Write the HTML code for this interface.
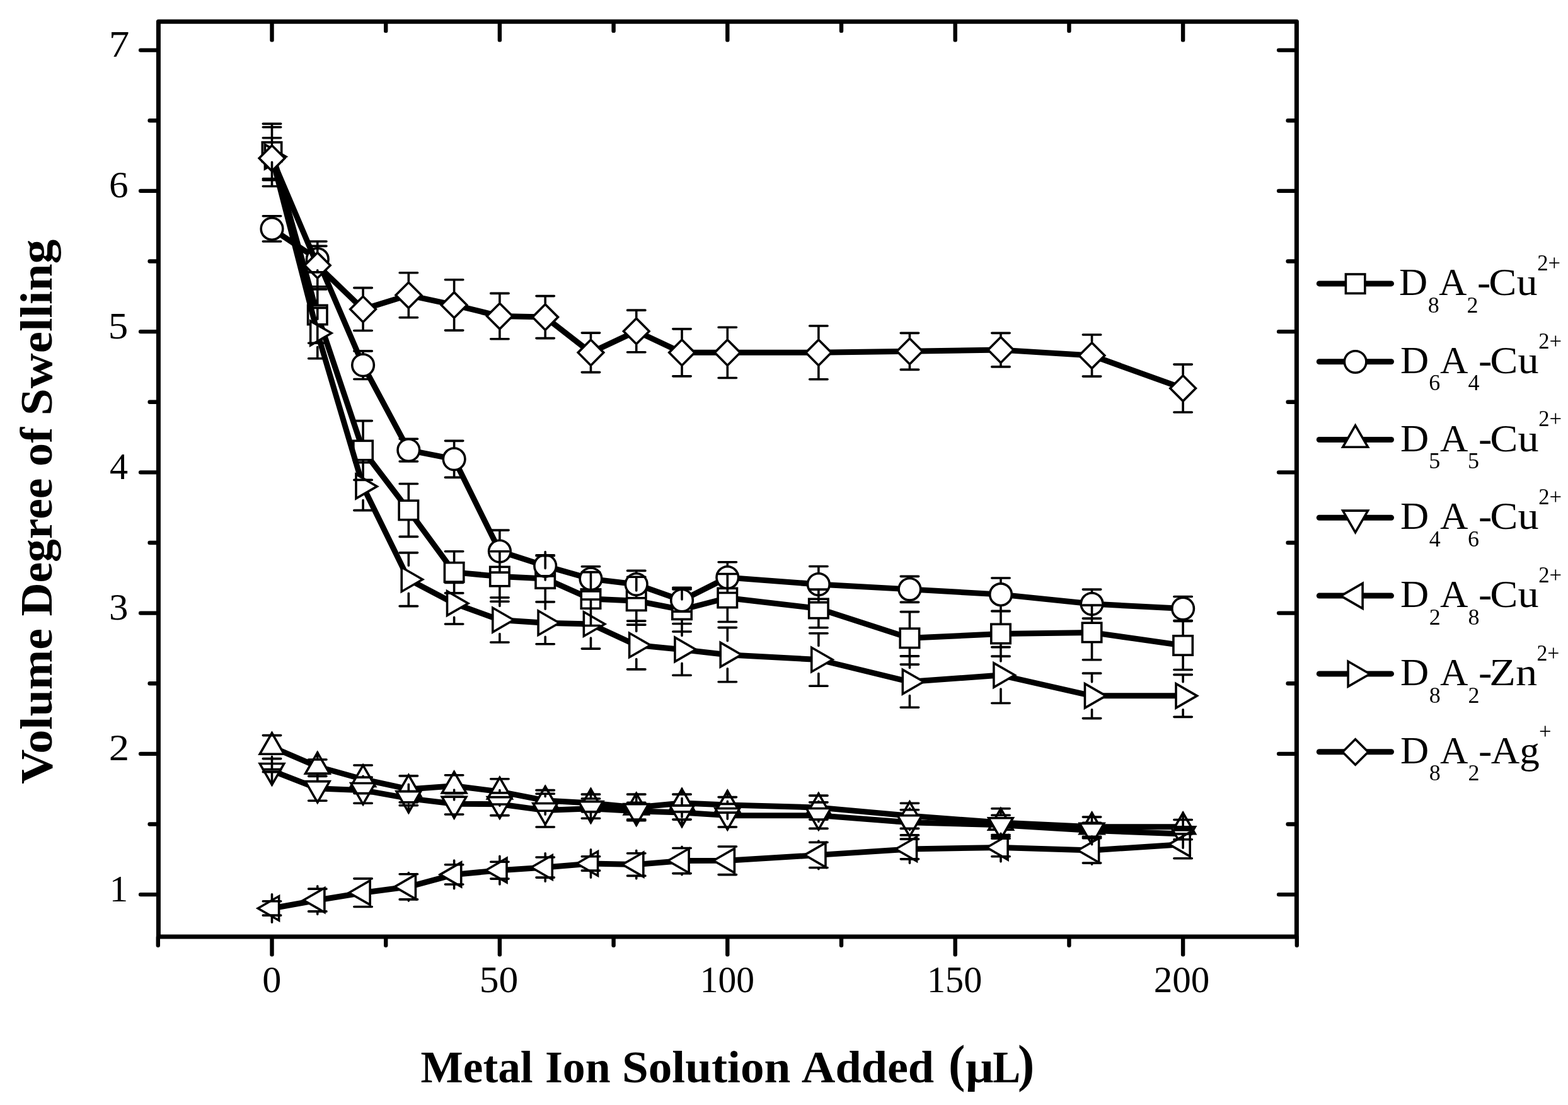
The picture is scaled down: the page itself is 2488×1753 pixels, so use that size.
<!DOCTYPE html>
<html lang="en"><head><meta charset="utf-8"><title>Volume Degree of Swelling vs Metal Ion Solution Added</title>
<style>html,body{margin:0;padding:0;background:#fff}body{width:2488px;height:1753px;overflow:hidden}svg{display:block}text{font-family:"Liberation Serif",serif;fill:#000}</style></head><body>
<svg width="2488" height="1753" viewBox="0 0 2488 1753">
<rect width="2488" height="1753" fill="#fff"/>
<g id="axes" stroke="#000" stroke-width="7.0" fill="none" stroke-linecap="round">
<rect x="251.4" y="34.3" width="1806" height="1451.7" stroke-linejoin="round"/>
</g>
<g id="ticks" stroke="#000" stroke-width="6.4" fill="none" stroke-linecap="round">
<line x1="250.8" y1="1487" x2="250.8" y2="1499.8"/>
<line x1="431.5" y1="1487" x2="431.5" y2="1514.3"/>
<line x1="431.5" y1="35.3" x2="431.5" y2="63.4"/>
<line x1="612.2" y1="1487" x2="612.2" y2="1499.8"/>
<line x1="612.2" y1="35.3" x2="612.2" y2="48.9"/>
<line x1="792.9" y1="1487" x2="792.9" y2="1514.3"/>
<line x1="792.9" y1="35.3" x2="792.9" y2="63.4"/>
<line x1="973.6" y1="1487" x2="973.6" y2="1499.8"/>
<line x1="973.6" y1="35.3" x2="973.6" y2="48.9"/>
<line x1="1154.3" y1="1487" x2="1154.3" y2="1514.3"/>
<line x1="1154.3" y1="35.3" x2="1154.3" y2="63.4"/>
<line x1="1335" y1="1487" x2="1335" y2="1499.8"/>
<line x1="1335" y1="35.3" x2="1335" y2="48.9"/>
<line x1="1515.7" y1="1487" x2="1515.7" y2="1514.3"/>
<line x1="1515.7" y1="35.3" x2="1515.7" y2="63.4"/>
<line x1="1696.4" y1="1487" x2="1696.4" y2="1499.8"/>
<line x1="1696.4" y1="35.3" x2="1696.4" y2="48.9"/>
<line x1="1877.1" y1="1487" x2="1877.1" y2="1514.3"/>
<line x1="1877.1" y1="35.3" x2="1877.1" y2="63.4"/>
<line x1="2057.8" y1="1487" x2="2057.8" y2="1499.8"/>
<line x1="250.4" y1="1419.1" x2="223.1" y2="1419.1"/>
<line x1="2056.4" y1="1419.1" x2="2029.1" y2="1419.1"/>
<line x1="250.4" y1="1307.47" x2="237.6" y2="1307.47"/>
<line x1="2056.4" y1="1307.47" x2="2043.6" y2="1307.47"/>
<line x1="250.4" y1="1195.85" x2="223.1" y2="1195.85"/>
<line x1="2056.4" y1="1195.85" x2="2029.1" y2="1195.85"/>
<line x1="250.4" y1="1084.22" x2="237.6" y2="1084.22"/>
<line x1="2056.4" y1="1084.22" x2="2043.6" y2="1084.22"/>
<line x1="250.4" y1="972.6" x2="223.1" y2="972.6"/>
<line x1="2056.4" y1="972.6" x2="2029.1" y2="972.6"/>
<line x1="250.4" y1="860.97" x2="237.6" y2="860.97"/>
<line x1="2056.4" y1="860.97" x2="2043.6" y2="860.97"/>
<line x1="250.4" y1="749.35" x2="223.1" y2="749.35"/>
<line x1="2056.4" y1="749.35" x2="2029.1" y2="749.35"/>
<line x1="250.4" y1="637.72" x2="237.6" y2="637.72"/>
<line x1="2056.4" y1="637.72" x2="2043.6" y2="637.72"/>
<line x1="250.4" y1="526.1" x2="223.1" y2="526.1"/>
<line x1="2056.4" y1="526.1" x2="2029.1" y2="526.1"/>
<line x1="250.4" y1="414.47" x2="237.6" y2="414.47"/>
<line x1="2056.4" y1="414.47" x2="2043.6" y2="414.47"/>
<line x1="250.4" y1="302.85" x2="223.1" y2="302.85"/>
<line x1="2056.4" y1="302.85" x2="2029.1" y2="302.85"/>
<line x1="250.4" y1="191.22" x2="237.6" y2="191.22"/>
<line x1="2056.4" y1="191.22" x2="2043.6" y2="191.22"/>
<line x1="250.4" y1="79.6" x2="223.1" y2="79.6"/>
<line x1="2056.4" y1="79.6" x2="2029.1" y2="79.6"/>
</g>
<g id="ticklabels" font-size="60">
<text x="416.29" y="1574.4" textLength="30.12" lengthAdjust="spacingAndGlyphs">0</text>
<text x="760.7" y="1574.4" textLength="61.56" lengthAdjust="spacingAndGlyphs">50</text>
<text x="1110.7" y="1574.4" textLength="86.42" lengthAdjust="spacingAndGlyphs">100</text>
<text x="1470.95" y="1574.4" textLength="87.29" lengthAdjust="spacingAndGlyphs">150</text>
<text x="1830.85" y="1574.4" textLength="88.52" lengthAdjust="spacingAndGlyphs">200</text>
<text x="173.8" y="1429.6" textLength="29.43" lengthAdjust="spacingAndGlyphs">1</text>
<text x="172.76" y="1206.35" textLength="32.38" lengthAdjust="spacingAndGlyphs">2</text>
<text x="172.95" y="983.1" textLength="30.48" lengthAdjust="spacingAndGlyphs">3</text>
<text x="174.03" y="759.85" textLength="29.04" lengthAdjust="spacingAndGlyphs">4</text>
<text x="171.8" y="536.6" textLength="31.5" lengthAdjust="spacingAndGlyphs">5</text>
<text x="172.94" y="313.35" textLength="30.6" lengthAdjust="spacingAndGlyphs">6</text>
<text x="172.65" y="90.1" textLength="32.62" lengthAdjust="spacingAndGlyphs">7</text>
</g>
<g id="titles" font-size="72" font-weight="bold">
<text y="1717"><tspan x="667.61" textLength="177.99" lengthAdjust="spacingAndGlyphs">Metal</tspan> <tspan x="864.91" textLength="103.65" lengthAdjust="spacingAndGlyphs">Ion</tspan> <tspan x="986.92" textLength="267.55" lengthAdjust="spacingAndGlyphs">Solution</tspan> <tspan x="1271.87" textLength="210.26" lengthAdjust="spacingAndGlyphs">Added</tspan> <tspan x="1504.93" font-size="82" dy="-2" textLength="26.4" lengthAdjust="spacingAndGlyphs">(</tspan> <tspan x="1531.72" dy="2" textLength="44.99" lengthAdjust="spacingAndGlyphs">µ</tspan> <tspan x="1575.26" textLength="40.28" lengthAdjust="spacingAndGlyphs">L</tspan> <tspan x="1615.11" font-size="82" dy="-2" textLength="26.27" lengthAdjust="spacingAndGlyphs">)</tspan></text>
<text transform="translate(82 1242.8) rotate(-90)" y="0"><tspan x="-1.06" textLength="247.01" lengthAdjust="spacingAndGlyphs">Volume</tspan> <tspan x="265.28" textLength="218.88" lengthAdjust="spacingAndGlyphs">Degree</tspan> <tspan x="502.91" textLength="61.85" lengthAdjust="spacingAndGlyphs">of</tspan> <tspan x="583.5" textLength="279.54" lengthAdjust="spacingAndGlyphs">Swelling</tspan></text>
</g>
<g id="series">
<g class="s-sq"><polyline points="431.5,241.01 503.78,499.53 576.06,714.52 648.34,809.4 720.62,907.86 792.9,914.55 865.18,917.9 937.46,950.05 1009.74,953.18 1082.02,967.24 1154.3,948.49 1298.86,965.46 1443.42,1012.34 1587.98,1005.42 1732.54,1003.41 1877.1,1023.95" fill="none" stroke="#000" stroke-width="9.0" stroke-linejoin="round"/>
<rect x="416.3" y="225.81" width="30.4" height="30.4" fill="#fff" stroke="#000" stroke-width="3.6" stroke-linejoin="miter"/>
<rect x="488.58" y="484.33" width="30.4" height="30.4" fill="#fff" stroke="#000" stroke-width="3.6" stroke-linejoin="miter"/>
<rect x="560.86" y="699.32" width="30.4" height="30.4" fill="#fff" stroke="#000" stroke-width="3.6" stroke-linejoin="miter"/>
<rect x="633.14" y="794.2" width="30.4" height="30.4" fill="#fff" stroke="#000" stroke-width="3.6" stroke-linejoin="miter"/>
<rect x="705.42" y="892.66" width="30.4" height="30.4" fill="#fff" stroke="#000" stroke-width="3.6" stroke-linejoin="miter"/>
<rect x="777.7" y="899.35" width="30.4" height="30.4" fill="#fff" stroke="#000" stroke-width="3.6" stroke-linejoin="miter"/>
<rect x="849.98" y="902.7" width="30.4" height="30.4" fill="#fff" stroke="#000" stroke-width="3.6" stroke-linejoin="miter"/>
<rect x="922.26" y="934.85" width="30.4" height="30.4" fill="#fff" stroke="#000" stroke-width="3.6" stroke-linejoin="miter"/>
<rect x="994.54" y="937.98" width="30.4" height="30.4" fill="#fff" stroke="#000" stroke-width="3.6" stroke-linejoin="miter"/>
<rect x="1066.82" y="952.04" width="30.4" height="30.4" fill="#fff" stroke="#000" stroke-width="3.6" stroke-linejoin="miter"/>
<rect x="1139.1" y="933.29" width="30.4" height="30.4" fill="#fff" stroke="#000" stroke-width="3.6" stroke-linejoin="miter"/>
<rect x="1283.66" y="950.26" width="30.4" height="30.4" fill="#fff" stroke="#000" stroke-width="3.6" stroke-linejoin="miter"/>
<rect x="1428.22" y="997.14" width="30.4" height="30.4" fill="#fff" stroke="#000" stroke-width="3.6" stroke-linejoin="miter"/>
<rect x="1572.78" y="990.22" width="30.4" height="30.4" fill="#fff" stroke="#000" stroke-width="3.6" stroke-linejoin="miter"/>
<rect x="1717.34" y="988.21" width="30.4" height="30.4" fill="#fff" stroke="#000" stroke-width="3.6" stroke-linejoin="miter"/>
<rect x="1861.9" y="1008.75" width="30.4" height="30.4" fill="#fff" stroke="#000" stroke-width="3.6" stroke-linejoin="miter"/>
</g>
<g class="s-ci"><polyline points="431.5,362.9 503.78,411.13 576.06,579.23 648.34,714.08 720.62,728.36 792.9,874.59 865.18,897.81 937.46,918.35 1009.74,927.06 1082.02,952.51 1154.3,916.12 1298.86,927.06 1443.42,934.87 1587.98,943.13 1732.54,958.09 1877.1,965.46" fill="none" stroke="#000" stroke-width="9.0" stroke-linejoin="round"/>
<circle cx="431.5" cy="362.9" r="17.3" fill="#fff" stroke="#000" stroke-width="3.6" stroke-linejoin="miter"/>
<circle cx="503.78" cy="411.13" r="17.3" fill="#fff" stroke="#000" stroke-width="3.6" stroke-linejoin="miter"/>
<circle cx="576.06" cy="579.23" r="17.3" fill="#fff" stroke="#000" stroke-width="3.6" stroke-linejoin="miter"/>
<circle cx="648.34" cy="714.08" r="17.3" fill="#fff" stroke="#000" stroke-width="3.6" stroke-linejoin="miter"/>
<circle cx="720.62" cy="728.36" r="17.3" fill="#fff" stroke="#000" stroke-width="3.6" stroke-linejoin="miter"/>
<circle cx="792.9" cy="874.59" r="17.3" fill="#fff" stroke="#000" stroke-width="3.6" stroke-linejoin="miter"/>
<circle cx="865.18" cy="897.81" r="17.3" fill="#fff" stroke="#000" stroke-width="3.6" stroke-linejoin="miter"/>
<circle cx="937.46" cy="918.35" r="17.3" fill="#fff" stroke="#000" stroke-width="3.6" stroke-linejoin="miter"/>
<circle cx="1009.74" cy="927.06" r="17.3" fill="#fff" stroke="#000" stroke-width="3.6" stroke-linejoin="miter"/>
<circle cx="1082.02" cy="952.51" r="17.3" fill="#fff" stroke="#000" stroke-width="3.6" stroke-linejoin="miter"/>
<circle cx="1154.3" cy="916.12" r="17.3" fill="#fff" stroke="#000" stroke-width="3.6" stroke-linejoin="miter"/>
<circle cx="1298.86" cy="927.06" r="17.3" fill="#fff" stroke="#000" stroke-width="3.6" stroke-linejoin="miter"/>
<circle cx="1443.42" cy="934.87" r="17.3" fill="#fff" stroke="#000" stroke-width="3.6" stroke-linejoin="miter"/>
<circle cx="1587.98" cy="943.13" r="17.3" fill="#fff" stroke="#000" stroke-width="3.6" stroke-linejoin="miter"/>
<circle cx="1732.54" cy="958.09" r="17.3" fill="#fff" stroke="#000" stroke-width="3.6" stroke-linejoin="miter"/>
<circle cx="1877.1" cy="965.46" r="17.3" fill="#fff" stroke="#000" stroke-width="3.6" stroke-linejoin="miter"/>
</g>
<g class="s-up"><polyline points="431.5,1185.13 503.78,1216.17 576.06,1236.26 648.34,1251.89 720.62,1246.75 792.9,1255.9 865.18,1269.97 937.46,1273.99 1009.74,1280.91 1082.02,1273.99 1154.3,1276.89 1298.86,1281.13 1443.42,1294.3 1587.98,1305.02 1732.54,1311.72 1877.1,1311.72" fill="none" stroke="#000" stroke-width="9.0" stroke-linejoin="round"/>
<polygon points="431.5,1162.93 450.73,1196.23 412.27,1196.23" fill="#fff" stroke="#000" stroke-width="3.6" stroke-linejoin="miter"/>
<polygon points="503.78,1193.97 523.01,1227.27 484.55,1227.27" fill="#fff" stroke="#000" stroke-width="3.6" stroke-linejoin="miter"/>
<polygon points="576.06,1214.06 595.29,1247.36 556.83,1247.36" fill="#fff" stroke="#000" stroke-width="3.6" stroke-linejoin="miter"/>
<polygon points="648.34,1229.69 667.57,1262.99 629.11,1262.99" fill="#fff" stroke="#000" stroke-width="3.6" stroke-linejoin="miter"/>
<polygon points="720.62,1224.55 739.85,1257.85 701.39,1257.85" fill="#fff" stroke="#000" stroke-width="3.6" stroke-linejoin="miter"/>
<polygon points="792.9,1233.7 812.13,1267 773.67,1267" fill="#fff" stroke="#000" stroke-width="3.6" stroke-linejoin="miter"/>
<polygon points="865.18,1247.77 884.41,1281.07 845.95,1281.07" fill="#fff" stroke="#000" stroke-width="3.6" stroke-linejoin="miter"/>
<polygon points="937.46,1251.79 956.69,1285.09 918.23,1285.09" fill="#fff" stroke="#000" stroke-width="3.6" stroke-linejoin="miter"/>
<polygon points="1009.74,1258.71 1028.97,1292.01 990.51,1292.01" fill="#fff" stroke="#000" stroke-width="3.6" stroke-linejoin="miter"/>
<polygon points="1082.02,1251.79 1101.25,1285.09 1062.79,1285.09" fill="#fff" stroke="#000" stroke-width="3.6" stroke-linejoin="miter"/>
<polygon points="1154.3,1254.69 1173.53,1287.99 1135.07,1287.99" fill="#fff" stroke="#000" stroke-width="3.6" stroke-linejoin="miter"/>
<polygon points="1298.86,1258.93 1318.09,1292.23 1279.63,1292.23" fill="#fff" stroke="#000" stroke-width="3.6" stroke-linejoin="miter"/>
<polygon points="1443.42,1272.1 1462.65,1305.4 1424.19,1305.4" fill="#fff" stroke="#000" stroke-width="3.6" stroke-linejoin="miter"/>
<polygon points="1587.98,1282.82 1607.21,1316.12 1568.75,1316.12" fill="#fff" stroke="#000" stroke-width="3.6" stroke-linejoin="miter"/>
<polygon points="1732.54,1289.52 1751.77,1322.82 1713.31,1322.82" fill="#fff" stroke="#000" stroke-width="3.6" stroke-linejoin="miter"/>
<polygon points="1877.1,1289.52 1896.33,1322.82 1857.87,1322.82" fill="#fff" stroke="#000" stroke-width="3.6" stroke-linejoin="miter"/>
</g>
<g class="s-dn"><polyline points="431.5,1222.64 503.78,1250.77 576.06,1253.67 648.34,1266.62 720.62,1275.33 792.9,1275.77 865.18,1285.6 937.46,1282.69 1009.74,1286.71 1082.02,1288.95 1154.3,1293.63 1298.86,1293.63 1443.42,1304.8 1587.98,1308.81 1732.54,1317.52 1877.1,1322.88" fill="none" stroke="#000" stroke-width="9.0" stroke-linejoin="round"/>
<polygon points="431.5,1244.84 412.27,1211.54 450.73,1211.54" fill="#fff" stroke="#000" stroke-width="3.6" stroke-linejoin="miter"/>
<polygon points="503.78,1272.97 484.55,1239.67 523.01,1239.67" fill="#fff" stroke="#000" stroke-width="3.6" stroke-linejoin="miter"/>
<polygon points="576.06,1275.87 556.83,1242.57 595.29,1242.57" fill="#fff" stroke="#000" stroke-width="3.6" stroke-linejoin="miter"/>
<polygon points="648.34,1288.82 629.11,1255.52 667.57,1255.52" fill="#fff" stroke="#000" stroke-width="3.6" stroke-linejoin="miter"/>
<polygon points="720.62,1297.53 701.39,1264.23 739.85,1264.23" fill="#fff" stroke="#000" stroke-width="3.6" stroke-linejoin="miter"/>
<polygon points="792.9,1297.97 773.67,1264.67 812.13,1264.67" fill="#fff" stroke="#000" stroke-width="3.6" stroke-linejoin="miter"/>
<polygon points="865.18,1307.8 845.95,1274.5 884.41,1274.5" fill="#fff" stroke="#000" stroke-width="3.6" stroke-linejoin="miter"/>
<polygon points="937.46,1304.89 918.23,1271.59 956.69,1271.59" fill="#fff" stroke="#000" stroke-width="3.6" stroke-linejoin="miter"/>
<polygon points="1009.74,1308.91 990.51,1275.61 1028.97,1275.61" fill="#fff" stroke="#000" stroke-width="3.6" stroke-linejoin="miter"/>
<polygon points="1082.02,1311.15 1062.79,1277.85 1101.25,1277.85" fill="#fff" stroke="#000" stroke-width="3.6" stroke-linejoin="miter"/>
<polygon points="1154.3,1315.83 1135.07,1282.53 1173.53,1282.53" fill="#fff" stroke="#000" stroke-width="3.6" stroke-linejoin="miter"/>
<polygon points="1298.86,1315.83 1279.63,1282.53 1318.09,1282.53" fill="#fff" stroke="#000" stroke-width="3.6" stroke-linejoin="miter"/>
<polygon points="1443.42,1327 1424.19,1293.7 1462.65,1293.7" fill="#fff" stroke="#000" stroke-width="3.6" stroke-linejoin="miter"/>
<polygon points="1587.98,1331.01 1568.75,1297.71 1607.21,1297.71" fill="#fff" stroke="#000" stroke-width="3.6" stroke-linejoin="miter"/>
<polygon points="1732.54,1339.72 1713.31,1306.42 1751.77,1306.42" fill="#fff" stroke="#000" stroke-width="3.6" stroke-linejoin="miter"/>
<polygon points="1877.1,1345.08 1857.87,1311.78 1896.33,1311.78" fill="#fff" stroke="#000" stroke-width="3.6" stroke-linejoin="miter"/>
</g>
<g class="s-lf"><polyline points="431.5,1440.98 503.78,1428.03 576.06,1416.2 648.34,1406.82 720.62,1387.4 792.9,1380.7 865.18,1376.01 937.46,1369.98 1009.74,1371.55 1082.02,1365.52 1154.3,1365.3 1298.86,1356.37 1443.42,1346.99 1587.98,1344.53 1732.54,1349 1877.1,1339.4" fill="none" stroke="#000" stroke-width="9.0" stroke-linejoin="round"/>
<polygon points="409.3,1440.98 442.6,1421.75 442.6,1460.2" fill="#fff" stroke="#000" stroke-width="3.6" stroke-linejoin="miter"/>
<polygon points="481.58,1428.03 514.88,1408.8 514.88,1447.26" fill="#fff" stroke="#000" stroke-width="3.6" stroke-linejoin="miter"/>
<polygon points="553.86,1416.2 587.16,1396.97 587.16,1435.42" fill="#fff" stroke="#000" stroke-width="3.6" stroke-linejoin="miter"/>
<polygon points="626.14,1406.82 659.44,1387.6 659.44,1426.05" fill="#fff" stroke="#000" stroke-width="3.6" stroke-linejoin="miter"/>
<polygon points="698.42,1387.4 731.72,1368.17 731.72,1406.62" fill="#fff" stroke="#000" stroke-width="3.6" stroke-linejoin="miter"/>
<polygon points="770.7,1380.7 804,1361.48 804,1399.93" fill="#fff" stroke="#000" stroke-width="3.6" stroke-linejoin="miter"/>
<polygon points="842.98,1376.01 876.28,1356.79 876.28,1395.24" fill="#fff" stroke="#000" stroke-width="3.6" stroke-linejoin="miter"/>
<polygon points="915.26,1369.98 948.56,1350.76 948.56,1389.21" fill="#fff" stroke="#000" stroke-width="3.6" stroke-linejoin="miter"/>
<polygon points="987.54,1371.55 1020.84,1352.32 1020.84,1390.77" fill="#fff" stroke="#000" stroke-width="3.6" stroke-linejoin="miter"/>
<polygon points="1059.82,1365.52 1093.12,1346.29 1093.12,1384.75" fill="#fff" stroke="#000" stroke-width="3.6" stroke-linejoin="miter"/>
<polygon points="1132.1,1365.3 1165.4,1346.07 1165.4,1384.52" fill="#fff" stroke="#000" stroke-width="3.6" stroke-linejoin="miter"/>
<polygon points="1276.66,1356.37 1309.96,1337.14 1309.96,1375.59" fill="#fff" stroke="#000" stroke-width="3.6" stroke-linejoin="miter"/>
<polygon points="1421.22,1346.99 1454.52,1327.76 1454.52,1366.22" fill="#fff" stroke="#000" stroke-width="3.6" stroke-linejoin="miter"/>
<polygon points="1565.78,1344.53 1599.08,1325.31 1599.08,1363.76" fill="#fff" stroke="#000" stroke-width="3.6" stroke-linejoin="miter"/>
<polygon points="1710.34,1349 1743.64,1329.77 1743.64,1368.23" fill="#fff" stroke="#000" stroke-width="3.6" stroke-linejoin="miter"/>
<polygon points="1854.9,1339.4 1888.2,1320.17 1888.2,1358.63" fill="#fff" stroke="#000" stroke-width="3.6" stroke-linejoin="miter"/>
</g>
<g class="s-rt"><polyline points="431.5,248.6 503.78,528.56 576.06,771.67 648.34,919.24 720.62,957.2 792.9,983.54 865.18,988.23 937.46,990.01 1009.74,1023.5 1082.02,1030.42 1154.3,1038.68 1298.86,1046.5 1443.42,1081.55 1587.98,1071.05 1732.54,1103.87 1877.1,1103.87" fill="none" stroke="#000" stroke-width="9.0" stroke-linejoin="round"/>
<polygon points="453.7,248.6 420.4,267.83 420.4,229.37" fill="#fff" stroke="#000" stroke-width="3.6" stroke-linejoin="miter"/>
<polygon points="525.98,528.56 492.68,547.78 492.68,509.33" fill="#fff" stroke="#000" stroke-width="3.6" stroke-linejoin="miter"/>
<polygon points="598.26,771.67 564.96,790.9 564.96,752.45" fill="#fff" stroke="#000" stroke-width="3.6" stroke-linejoin="miter"/>
<polygon points="670.54,919.24 637.24,938.47 637.24,900.02" fill="#fff" stroke="#000" stroke-width="3.6" stroke-linejoin="miter"/>
<polygon points="742.82,957.2 709.52,976.42 709.52,937.97" fill="#fff" stroke="#000" stroke-width="3.6" stroke-linejoin="miter"/>
<polygon points="815.1,983.54 781.8,1002.77 781.8,964.31" fill="#fff" stroke="#000" stroke-width="3.6" stroke-linejoin="miter"/>
<polygon points="887.38,988.23 854.08,1007.45 854.08,969" fill="#fff" stroke="#000" stroke-width="3.6" stroke-linejoin="miter"/>
<polygon points="959.66,990.01 926.36,1009.24 926.36,970.79" fill="#fff" stroke="#000" stroke-width="3.6" stroke-linejoin="miter"/>
<polygon points="1031.94,1023.5 998.64,1042.73 998.64,1004.28" fill="#fff" stroke="#000" stroke-width="3.6" stroke-linejoin="miter"/>
<polygon points="1104.22,1030.42 1070.92,1049.65 1070.92,1011.2" fill="#fff" stroke="#000" stroke-width="3.6" stroke-linejoin="miter"/>
<polygon points="1176.5,1038.68 1143.2,1057.91 1143.2,1019.46" fill="#fff" stroke="#000" stroke-width="3.6" stroke-linejoin="miter"/>
<polygon points="1321.06,1046.5 1287.76,1065.72 1287.76,1027.27" fill="#fff" stroke="#000" stroke-width="3.6" stroke-linejoin="miter"/>
<polygon points="1465.62,1081.55 1432.32,1100.77 1432.32,1062.32" fill="#fff" stroke="#000" stroke-width="3.6" stroke-linejoin="miter"/>
<polygon points="1610.18,1071.05 1576.88,1090.28 1576.88,1051.83" fill="#fff" stroke="#000" stroke-width="3.6" stroke-linejoin="miter"/>
<polygon points="1754.74,1103.87 1721.44,1123.1 1721.44,1084.65" fill="#fff" stroke="#000" stroke-width="3.6" stroke-linejoin="miter"/>
<polygon points="1899.3,1103.87 1866,1123.1 1866,1084.65" fill="#fff" stroke="#000" stroke-width="3.6" stroke-linejoin="miter"/>
</g>
<g class="s-di"><polyline points="431.5,251.06 503.78,420.95 576.06,490.6 648.34,468.28 720.62,483.91 792.9,501.54 865.18,503.11 937.46,559.36 1009.74,525.43 1082.02,559.36 1154.3,559.36 1298.86,559.36 1443.42,557.35 1587.98,555.12 1732.54,564.05 1877.1,616.07" fill="none" stroke="#000" stroke-width="9.0" stroke-linejoin="round"/>
<polygon points="431.5,230.76 451.8,251.06 431.5,271.36 411.2,251.06" fill="#fff" stroke="#000" stroke-width="3.6" stroke-linejoin="miter"/>
<polygon points="503.78,400.65 524.08,420.95 503.78,441.25 483.48,420.95" fill="#fff" stroke="#000" stroke-width="3.6" stroke-linejoin="miter"/>
<polygon points="576.06,470.3 596.36,490.6 576.06,510.9 555.76,490.6" fill="#fff" stroke="#000" stroke-width="3.6" stroke-linejoin="miter"/>
<polygon points="648.34,447.98 668.64,468.28 648.34,488.58 628.04,468.28" fill="#fff" stroke="#000" stroke-width="3.6" stroke-linejoin="miter"/>
<polygon points="720.62,463.61 740.92,483.91 720.62,504.21 700.32,483.91" fill="#fff" stroke="#000" stroke-width="3.6" stroke-linejoin="miter"/>
<polygon points="792.9,481.24 813.2,501.54 792.9,521.84 772.6,501.54" fill="#fff" stroke="#000" stroke-width="3.6" stroke-linejoin="miter"/>
<polygon points="865.18,482.81 885.48,503.11 865.18,523.41 844.88,503.11" fill="#fff" stroke="#000" stroke-width="3.6" stroke-linejoin="miter"/>
<polygon points="937.46,539.06 957.76,559.36 937.46,579.66 917.16,559.36" fill="#fff" stroke="#000" stroke-width="3.6" stroke-linejoin="miter"/>
<polygon points="1009.74,505.13 1030.04,525.43 1009.74,545.73 989.44,525.43" fill="#fff" stroke="#000" stroke-width="3.6" stroke-linejoin="miter"/>
<polygon points="1082.02,539.06 1102.32,559.36 1082.02,579.66 1061.72,559.36" fill="#fff" stroke="#000" stroke-width="3.6" stroke-linejoin="miter"/>
<polygon points="1154.3,539.06 1174.6,559.36 1154.3,579.66 1134,559.36" fill="#fff" stroke="#000" stroke-width="3.6" stroke-linejoin="miter"/>
<polygon points="1298.86,539.06 1319.16,559.36 1298.86,579.66 1278.56,559.36" fill="#fff" stroke="#000" stroke-width="3.6" stroke-linejoin="miter"/>
<polygon points="1443.42,537.05 1463.72,557.35 1443.42,577.65 1423.12,557.35" fill="#fff" stroke="#000" stroke-width="3.6" stroke-linejoin="miter"/>
<polygon points="1587.98,534.82 1608.28,555.12 1587.98,575.42 1567.68,555.12" fill="#fff" stroke="#000" stroke-width="3.6" stroke-linejoin="miter"/>
<polygon points="1732.54,543.75 1752.84,564.05 1732.54,584.35 1712.24,564.05" fill="#fff" stroke="#000" stroke-width="3.6" stroke-linejoin="miter"/>
<polygon points="1877.1,595.77 1897.4,616.07 1877.1,636.37 1856.8,616.07" fill="#fff" stroke="#000" stroke-width="3.6" stroke-linejoin="miter"/>
</g>
</g>
<g id="errorbars" stroke="#000" stroke-width="3.6" stroke-linecap="round" fill="none">
<path d="M417.3 196.36H445.7M431.5 224.71V196.36M417.3 285.66H445.7M431.5 257.31V285.66M489.58 454.88H517.98M503.78 483.23V454.88M489.58 544.18H517.98M503.78 515.83V544.18M561.86 667.64H590.26M576.06 698.22V667.64M561.86 761.41H590.26M576.06 730.82V761.41M634.14 767.43H662.54M648.34 793.1V767.43M634.14 851.38H662.54M648.34 825.7V851.38M706.42 874.82H734.82M720.62 891.56V874.82M706.42 940.9H734.82M720.62 924.16V940.9M778.7 874.82H807.1M792.9 898.25V874.82M778.7 954.29H807.1M792.9 930.85V954.29M850.98 880.84H879.38M865.18 901.6V880.84M850.98 954.96H879.38M865.18 934.2V954.96M923.26 907.63H951.66M937.46 933.75V907.63M923.26 992.47H951.66M937.46 966.35V992.47M995.54 915.22H1023.94M1009.74 936.88V915.22M995.54 991.13H1023.94M1009.74 969.48V991.13M1067.82 932.41H1096.22M1082.02 950.94V932.41M1067.82 1002.07H1096.22M1082.02 983.54V1002.07M1140.1 910.54H1168.5M1154.3 932.19V910.54M1140.1 986.44H1168.5M1154.3 964.79V986.44M1284.66 935.09H1313.06M1298.86 949.16V935.09M1284.66 995.82H1313.06M1298.86 981.76V995.82M1429.22 970.59H1457.62M1443.42 996.04V970.59M1429.22 1054.09H1457.62M1443.42 1028.64V1054.09M1573.78 969.7H1602.18M1587.98 989.12V969.7M1573.78 1041.14H1602.18M1587.98 1021.72V1041.14M1718.34 960.1H1746.74M1732.54 987.11V960.1M1718.34 1046.72H1746.74M1732.54 1019.71V1046.72M1862.9 985.33H1891.3M1877.1 1007.65V985.33M1862.9 1062.57H1891.3M1877.1 1040.25V1062.57M417.3 342.81H445.7M431.5 345.3V342.81M417.3 383H445.7M431.5 380.5V383M489.58 390.36H517.98M503.78 393.53V390.36M489.58 431.89H517.98M503.78 428.73V431.89M561.86 556.91H590.26M576.06 561.63V556.91M561.86 601.56H590.26M576.06 596.83V601.56M634.14 696.22H662.54M634.14 731.94H662.54M706.42 699.34H734.82M720.62 710.76V699.34M706.42 757.39H734.82M720.62 745.96V757.39M778.7 841.11H807.1M792.9 856.99V841.11M778.7 908.08H807.1M792.9 892.19V908.08M850.98 881.74H879.38M865.18 875.51V881.74M850.98 913.89H879.38M865.18 920.11V913.89M923.26 898.7H951.66M937.46 900.75V898.7M923.26 938H951.66M937.46 935.95V938M995.54 905.4H1023.94M1009.74 909.46V905.4M995.54 948.71H1023.94M1009.74 944.66V948.71M1067.82 934.87H1096.22M1067.82 970.14H1096.22M1140.1 891.78H1168.5M1154.3 898.52V891.78M1140.1 940.45H1168.5M1154.3 933.72V940.45M1284.66 898.48H1313.06M1298.86 909.46V898.48M1284.66 955.63H1313.06M1298.86 944.66V955.63M1429.22 914.33H1457.62M1443.42 917.27V914.33M1429.22 955.41H1457.62M1443.42 952.47V955.41M1573.78 917.01H1602.18M1587.98 925.53V917.01M1573.78 969.25H1602.18M1587.98 960.73V969.25M1718.34 935.09H1746.74M1732.54 940.49V935.09M1718.34 981.08H1746.74M1732.54 975.69V981.08M1862.9 946.48H1891.3M1877.1 947.86V946.48M1862.9 984.43H1891.3M1877.1 983.06V984.43M417.3 1166.6H445.7M431.5 1162.83V1166.6M417.3 1203.66H445.7M431.5 1207.43V1203.66M489.58 1205H517.98M503.78 1193.87V1205M489.58 1227.33H517.98M503.78 1238.47V1227.33M561.86 1213.93H590.26M561.86 1258.58H590.26M634.14 1230.9H662.54M648.34 1229.59V1230.9M634.14 1272.87H662.54M648.34 1274.19V1272.87M706.42 1229.78H734.82M720.62 1224.45V1229.78M706.42 1263.72H734.82M720.62 1269.05V1263.72M778.7 1235.81H807.1M792.9 1233.6V1235.81M778.7 1276H807.1M792.9 1278.2V1276M850.98 1253.67H879.38M865.18 1247.67V1253.67M850.98 1286.27H879.38M865.18 1292.27V1286.27M923.26 1260.15H951.66M937.46 1251.69V1260.15M923.26 1287.83H951.66M937.46 1296.29V1287.83M995.54 1260.15H1023.94M1009.74 1258.61V1260.15M995.54 1301.67H1023.94M1009.74 1303.21V1301.67M1067.82 1260.15H1096.22M1082.02 1251.69V1260.15M1067.82 1287.83H1096.22M1082.02 1296.29V1287.83M1140.1 1264.61H1168.5M1154.3 1254.59V1264.61M1140.1 1289.17H1168.5M1154.3 1299.19V1289.17M1284.66 1262.16H1313.06M1298.86 1258.83V1262.16M1284.66 1300.11H1313.06M1298.86 1303.43V1300.11M1429.22 1274.21H1457.62M1443.42 1272V1274.21M1429.22 1314.4H1457.62M1443.42 1316.6V1314.4M1573.78 1282.69H1602.18M1573.78 1327.34H1602.18M1718.34 1296.09H1746.74M1732.54 1289.42V1296.09M1718.34 1327.34H1746.74M1732.54 1334.02V1327.34M1862.9 1300.55H1891.3M1877.1 1289.42V1300.55M1862.9 1322.88H1891.3M1877.1 1334.02V1322.88M417.3 1220.63H445.7M431.5 1200.34V1220.63M417.3 1224.65H445.7M431.5 1244.94V1224.65M489.58 1231.35H517.98M503.78 1228.47V1231.35M489.58 1270.19H517.98M503.78 1273.07V1270.19M561.86 1233.13H590.26M576.06 1231.37V1233.13M561.86 1274.21H590.26M576.06 1275.97V1274.21M634.14 1255.46H662.54M648.34 1244.32V1255.46M634.14 1277.78H662.54M648.34 1288.92V1277.78M706.42 1258.58H734.82M720.62 1253.03V1258.58M706.42 1292.07H734.82M720.62 1297.63V1292.07M778.7 1257.91H807.1M792.9 1253.47V1257.91M778.7 1293.63H807.1M792.9 1298.07V1293.63M850.98 1259.25H879.38M865.18 1263.6V1259.25M850.98 1311.94H879.38M865.18 1307.6V1311.94M923.26 1267.07H951.66M937.46 1260.39V1267.07M923.26 1298.32H951.66M937.46 1304.99V1298.32M995.54 1273.32H1023.94M1009.74 1264.41V1273.32M995.54 1300.11H1023.94M1009.74 1309.01V1300.11M1067.82 1277.78H1096.22M1082.02 1266.65V1277.78M1067.82 1300.11H1096.22M1082.02 1311.25V1300.11M1140.1 1275.33H1168.5M1154.3 1271.33V1275.33M1140.1 1311.94H1168.5M1154.3 1315.93V1311.94M1284.66 1272.87H1313.06M1298.86 1271.33V1272.87M1284.66 1314.4H1313.06M1298.86 1315.93V1314.4M1429.22 1284.7H1457.62M1443.42 1282.5V1284.7M1429.22 1324.89H1457.62M1443.42 1327.1V1324.89M1573.78 1293.19H1602.18M1587.98 1286.51V1293.19M1573.78 1324.44H1602.18M1587.98 1331.11V1324.44M1718.34 1305.24H1746.74M1732.54 1295.22V1305.24M1718.34 1329.8H1746.74M1732.54 1339.82V1329.8M1862.9 1313.95H1891.3M1877.1 1300.58V1313.95M1862.9 1331.81H1891.3M1877.1 1345.18V1331.81M417.3 1429.82H445.7M431.5 1418.68V1429.82M417.3 1452.14H445.7M431.5 1463.28V1452.14M489.58 1410.17H517.98M503.78 1405.73V1410.17M489.58 1445.89H517.98M503.78 1450.33V1445.89M561.86 1393.87H590.26M561.86 1438.52H590.26M634.14 1386.73H662.54M648.34 1384.52V1386.73M634.14 1426.91H662.54M648.34 1429.12V1426.91M706.42 1371.77H734.82M720.62 1365.1V1371.77M706.42 1403.03H734.82M720.62 1409.7V1403.03M778.7 1367.31H807.1M792.9 1358.4V1367.31M778.7 1394.1H807.1M792.9 1403V1394.1M850.98 1359.94H879.38M865.18 1353.71V1359.94M850.98 1392.09H879.38M865.18 1398.31V1392.09M923.26 1358.82H951.66M937.46 1347.68V1358.82M923.26 1381.15H951.66M937.46 1392.28V1381.15M995.54 1353.69H1023.94M1009.74 1349.25V1353.69M995.54 1389.41H1023.94M1009.74 1393.85V1389.41M1067.82 1345.43H1096.22M1082.02 1343.22V1345.43M1067.82 1385.61H1096.22M1082.02 1387.82V1385.61M1140.1 1342.97H1168.5M1140.1 1387.62H1168.5M1284.66 1336.27H1313.06M1298.86 1334.07V1336.27M1284.66 1376.46H1313.06M1298.86 1378.67V1376.46M1429.22 1331.14H1457.62M1443.42 1324.69V1331.14M1429.22 1362.84H1457.62M1443.42 1369.29V1362.84M1573.78 1330.25H1602.18M1587.98 1322.23V1330.25M1573.78 1358.82H1602.18M1587.98 1366.83V1358.82M1718.34 1328.91H1746.74M1732.54 1326.7V1328.91M1718.34 1369.09H1746.74M1732.54 1371.3V1369.09M1862.9 1317.07H1891.3M1862.9 1361.72H1891.3M417.3 201.72H445.7M431.5 226.6V201.72M417.3 295.48H445.7M431.5 270.6V295.48M489.58 488.37H517.98M503.78 506.56V488.37M489.58 568.74H517.98M503.78 550.56V568.74M561.86 733.72H590.26M576.06 749.67V733.72M561.86 809.63H590.26M576.06 793.67V809.63M634.14 876.83H662.54M648.34 897.24V876.83M634.14 961.66H662.54M648.34 941.24V961.66M706.42 924.38H734.82M720.62 935.2V924.38M706.42 990.01H734.82M720.62 979.2V990.01M778.7 948.04H807.1M792.9 961.54V948.04M778.7 1019.04H807.1M792.9 1005.54V1019.04M850.98 954.74H879.38M865.18 966.23V954.74M850.98 1021.71H879.38M865.18 1010.23V1021.71M923.26 950.94H951.66M937.46 968.01V950.94M923.26 1029.08H951.66M937.46 1012.01V1029.08M995.54 985.1H1023.94M1009.74 1001.5V985.1M995.54 1061.9H1023.94M1009.74 1045.5V1061.9M1067.82 989.57H1096.22M1082.02 1008.42V989.57M1067.82 1071.28H1096.22M1082.02 1052.42V1071.28M1140.1 995.59H1168.5M1154.3 1016.68V995.59M1140.1 1081.77H1168.5M1154.3 1060.68V1081.77M1284.66 1004.75H1313.06M1298.86 1024.5V1004.75M1284.66 1088.24H1313.06M1298.86 1068.5V1088.24M1429.22 1040.91H1457.62M1443.42 1059.55V1040.91M1429.22 1122.18H1457.62M1443.42 1103.55V1122.18M1573.78 1026.63H1602.18M1587.98 1049.05V1026.63M1573.78 1115.48H1602.18M1587.98 1093.05V1115.48M1718.34 1068.15H1746.74M1732.54 1081.87V1068.15M1718.34 1139.59H1746.74M1732.54 1125.87V1139.59M1862.9 1070.38H1891.3M1877.1 1081.87V1070.38M1862.9 1137.36H1891.3M1877.1 1125.87V1137.36M417.3 218.68H445.7M431.5 229.06V218.68M417.3 283.43H445.7M431.5 273.06V283.43M489.58 383H517.98M503.78 398.95V383M489.58 458.9H517.98M503.78 442.95V458.9M561.86 456.67H590.26M576.06 468.6V456.67M561.86 524.54H590.26M576.06 512.6V524.54M634.14 432.78H662.54M648.34 446.28V432.78M634.14 503.77H662.54M648.34 490.28V503.77M706.42 443.72H734.82M720.62 461.91V443.72M706.42 524.09H734.82M720.62 505.91V524.09M778.7 465.38H807.1M792.9 479.54V465.38M778.7 537.71H807.1M792.9 523.54V537.71M850.98 469.62H879.38M865.18 481.11V469.62M850.98 536.59H879.38M865.18 525.11V536.59M923.26 528.11H951.66M937.46 537.36V528.11M923.26 590.62H951.66M937.46 581.36V590.62M995.54 492.17H1023.94M1009.74 503.43V492.17M995.54 558.69H1023.94M1009.74 547.43V558.69M1067.82 521.86H1096.22M1082.02 537.36V521.86M1067.82 596.87H1096.22M1082.02 581.36V596.87M1140.1 519.18H1168.5M1154.3 537.36V519.18M1140.1 599.55H1168.5M1154.3 581.36V599.55M1284.66 516.95H1313.06M1298.86 537.36V516.95M1284.66 601.78H1313.06M1298.86 581.36V601.78M1429.22 528.33H1457.62M1443.42 535.35V528.33M1429.22 586.38H1457.62M1443.42 579.35V586.38M1573.78 528.33H1602.18M1587.98 533.12V528.33M1573.78 581.91H1602.18M1587.98 577.12V581.91M1718.34 531.01H1746.74M1732.54 542.05V531.01M1718.34 597.09H1746.74M1732.54 586.05V597.09M1862.9 578.12H1891.3M1877.1 594.07V578.12M1862.9 654.02H1891.3M1877.1 638.07V654.02"/>
</g>
<g id="legend">
<line x1="2093.3" y1="449.9" x2="2207.5" y2="449.9" stroke="#000" stroke-width="9" stroke-linecap="round"/>
<rect x="2135.4" y="435" width="30.4" height="30.4" fill="#fff" stroke="#000" stroke-width="3.6" stroke-linejoin="miter"/>
<text><tspan x="2219.95" y="468" font-size="61" textLength="45.16" lengthAdjust="spacingAndGlyphs">D</tspan><tspan x="2265.7" y="495.6" font-size="36">8</tspan><tspan x="2282.99" y="468" font-size="61" textLength="44.47" lengthAdjust="spacingAndGlyphs">A</tspan><tspan x="2327.5" y="495.6" font-size="36">2</tspan><tspan x="2343.9" y="468" font-size="61" textLength="21.34" lengthAdjust="spacingAndGlyphs">-</tspan><tspan x="2362.34" y="468" font-size="61" textLength="77.24" lengthAdjust="spacingAndGlyphs">Cu</tspan><tspan x="2439.17" y="428.8" font-size="36" textLength="36.89" lengthAdjust="spacingAndGlyphs">2+</tspan></text>
<line x1="2093.3" y1="573.7" x2="2207.5" y2="573.7" stroke="#000" stroke-width="9" stroke-linecap="round"/>
<circle cx="2150.6" cy="574" r="17.3" fill="#fff" stroke="#000" stroke-width="3.6" stroke-linejoin="miter"/>
<text><tspan x="2221.95" y="591.8" font-size="61" textLength="45.16" lengthAdjust="spacingAndGlyphs">D</tspan><tspan x="2267.2" y="619.4" font-size="36">6</tspan><tspan x="2284.99" y="591.8" font-size="61" textLength="44.47" lengthAdjust="spacingAndGlyphs">A</tspan><tspan x="2329.5" y="619.4" font-size="36">4</tspan><tspan x="2345.9" y="591.8" font-size="61" textLength="21.34" lengthAdjust="spacingAndGlyphs">-</tspan><tspan x="2364.34" y="591.8" font-size="61" textLength="77.24" lengthAdjust="spacingAndGlyphs">Cu</tspan><tspan x="2441.17" y="552.6" font-size="36" textLength="36.89" lengthAdjust="spacingAndGlyphs">2+</tspan></text>
<line x1="2093.3" y1="697.5" x2="2207.5" y2="697.5" stroke="#000" stroke-width="9" stroke-linecap="round"/>
<polygon points="2150.6,674.8 2170.52,709.3 2130.68,709.3" fill="#fff" stroke="#000" stroke-width="3.6" stroke-linejoin="miter"/>
<text><tspan x="2221.95" y="715.6" font-size="61" textLength="45.16" lengthAdjust="spacingAndGlyphs">D</tspan><tspan x="2267.2" y="743.2" font-size="36">5</tspan><tspan x="2284.99" y="715.6" font-size="61" textLength="44.47" lengthAdjust="spacingAndGlyphs">A</tspan><tspan x="2329" y="743.2" font-size="36">5</tspan><tspan x="2345.9" y="715.6" font-size="61" textLength="21.34" lengthAdjust="spacingAndGlyphs">-</tspan><tspan x="2364.34" y="715.6" font-size="61" textLength="77.24" lengthAdjust="spacingAndGlyphs">Cu</tspan><tspan x="2441.17" y="676.4" font-size="36" textLength="36.89" lengthAdjust="spacingAndGlyphs">2+</tspan></text>
<line x1="2093.3" y1="821.3" x2="2207.5" y2="821.3" stroke="#000" stroke-width="9" stroke-linecap="round"/>
<polygon points="2150.6,844.6 2130.68,810.1 2170.52,810.1" fill="#fff" stroke="#000" stroke-width="3.6" stroke-linejoin="miter"/>
<text><tspan x="2221.95" y="839.4" font-size="61" textLength="45.16" lengthAdjust="spacingAndGlyphs">D</tspan><tspan x="2267.7" y="867" font-size="36">4</tspan><tspan x="2284.99" y="839.4" font-size="61" textLength="44.47" lengthAdjust="spacingAndGlyphs">A</tspan><tspan x="2329" y="867" font-size="36">6</tspan><tspan x="2345.9" y="839.4" font-size="61" textLength="21.34" lengthAdjust="spacingAndGlyphs">-</tspan><tspan x="2364.34" y="839.4" font-size="61" textLength="77.24" lengthAdjust="spacingAndGlyphs">Cu</tspan><tspan x="2441.17" y="800.2" font-size="36" textLength="36.89" lengthAdjust="spacingAndGlyphs">2+</tspan></text>
<line x1="2093.3" y1="945.1" x2="2207.5" y2="945.1" stroke="#000" stroke-width="9" stroke-linecap="round"/>
<polygon points="2127.6,945.4 2162.1,925.48 2162.1,965.32" fill="#fff" stroke="#000" stroke-width="3.6" stroke-linejoin="miter"/>
<text><tspan x="2221.95" y="963.2" font-size="61" textLength="45.16" lengthAdjust="spacingAndGlyphs">D</tspan><tspan x="2267.7" y="990.8" font-size="36">2</tspan><tspan x="2284.99" y="963.2" font-size="61" textLength="44.47" lengthAdjust="spacingAndGlyphs">A</tspan><tspan x="2329.5" y="990.8" font-size="36">8</tspan><tspan x="2345.9" y="963.2" font-size="61" textLength="21.34" lengthAdjust="spacingAndGlyphs">-</tspan><tspan x="2364.34" y="963.2" font-size="61" textLength="77.24" lengthAdjust="spacingAndGlyphs">Cu</tspan><tspan x="2441.17" y="924" font-size="36" textLength="36.89" lengthAdjust="spacingAndGlyphs">2+</tspan></text>
<line x1="2093.3" y1="1068.9" x2="2207.5" y2="1068.9" stroke="#000" stroke-width="9" stroke-linecap="round"/>
<polygon points="2173.6,1069.2 2139.1,1089.12 2139.1,1049.28" fill="#fff" stroke="#000" stroke-width="3.6" stroke-linejoin="miter"/>
<text><tspan x="2221.95" y="1087" font-size="61" textLength="45.16" lengthAdjust="spacingAndGlyphs">D</tspan><tspan x="2267.7" y="1114.6" font-size="36">8</tspan><tspan x="2284.99" y="1087" font-size="61" textLength="44.47" lengthAdjust="spacingAndGlyphs">A</tspan><tspan x="2329.5" y="1114.6" font-size="36">2</tspan><tspan x="2345.9" y="1087" font-size="61" textLength="21.34" lengthAdjust="spacingAndGlyphs">-</tspan><tspan x="2363.34" y="1087" font-size="61" textLength="75.92" lengthAdjust="spacingAndGlyphs">Zn</tspan><tspan x="2438.42" y="1047.8" font-size="36" textLength="36.01" lengthAdjust="spacingAndGlyphs">2+</tspan></text>
<line x1="2093.3" y1="1192.7" x2="2207.5" y2="1192.7" stroke="#000" stroke-width="9" stroke-linecap="round"/>
<polygon points="2150.6,1172.7 2170.9,1193 2150.6,1213.3 2130.3,1193" fill="#fff" stroke="#000" stroke-width="3.6" stroke-linejoin="miter"/>
<text><tspan x="2221.95" y="1210.8" font-size="61" textLength="45.16" lengthAdjust="spacingAndGlyphs">D</tspan><tspan x="2267.7" y="1238.4" font-size="36">8</tspan><tspan x="2284.99" y="1210.8" font-size="61" textLength="44.47" lengthAdjust="spacingAndGlyphs">A</tspan><tspan x="2329.5" y="1238.4" font-size="36">2</tspan><tspan x="2345.9" y="1210.8" font-size="61" textLength="21.34" lengthAdjust="spacingAndGlyphs">-</tspan><tspan x="2365.67" y="1210.8" font-size="61" textLength="77.15" lengthAdjust="spacingAndGlyphs">Ag</tspan><tspan x="2442.08" y="1171.6" font-size="36" textLength="19.48" lengthAdjust="spacingAndGlyphs">+</tspan></text>
</g>
</svg></body></html>
